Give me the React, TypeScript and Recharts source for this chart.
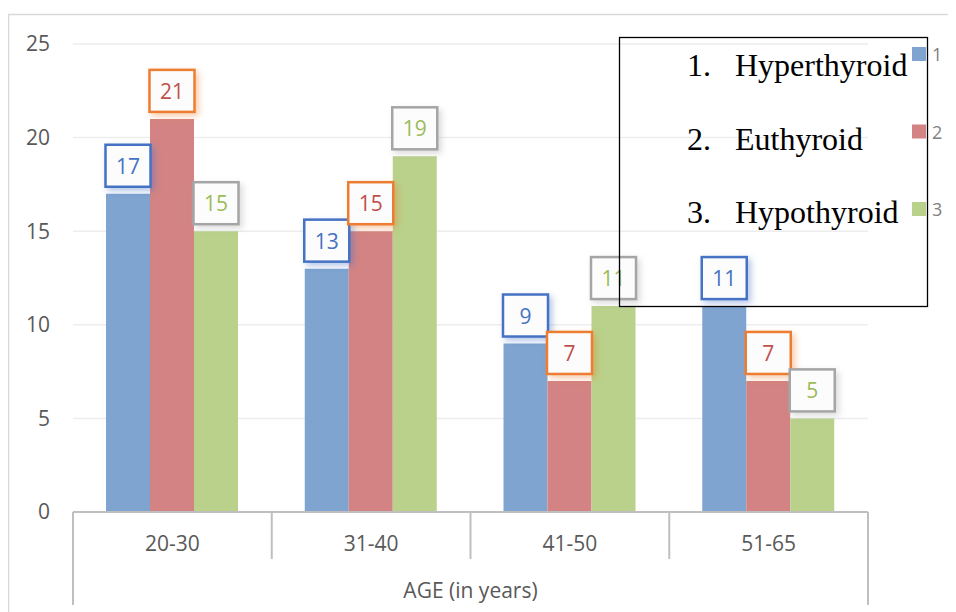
import React from 'react';
import { BarChart, Bar, XAxis, YAxis, CartesianGrid, LabelList } from 'recharts';

// Age groups on the category axis
const ageGroups = ['20-30', '31-40', '41-50', '51-65'];

// Patient counts per thyroid status
const hyperthyroid = [17, 13, 9, 11];
const euthyroid = [21, 15, 7, 7];
const hypothyroid = [15, 19, 11, 5];

const yTicks = [0, 5, 10, 15, 20, 25];
const xAxisTitle = 'AGE (in years)';
const legendNames = ['1', '2', '3'];
const statusNames = ['Hyperthyroid', 'Euthyroid', 'Hypothyroid'];

const FONT = '"Open Sans", Lato, sans-serif';

const series = [
  { key: 's1', name: legendNames[0], values: hyperthyroid, fill: '#7FA4CF', text: '#4472C4', border: '#4472C4' },
  { key: 's2', name: legendNames[1], values: euthyroid, fill: '#D38383', text: '#C0504D', border: '#ED7D31' },
  { key: 's3', name: legendNames[2], values: hypothyroid, fill: '#B9D18B', text: '#9BBB59', border: '#A5A5A5' },
];

const data = ageGroups.map((age, i) => {
  const row: Record<string, string | number> = { age };
  series.forEach((s) => {
    row[s.key] = s.values[i];
  });
  return row;
});

const PLOT_LEFT = 65;
const PLOT_RIGHT = 860;

// Boxed value label sitting above each bar
const makeBoxLabel = (idx: number) => (props: any) => {
  const { x, y, width, value } = props;
  const s = series[idx];
  const bw = width + 1;
  const bh = 42;
  const bx = x - 0.5;
  const by = y - 7 - bh;
  return (
    <g>
      <rect
        x={bx}
        y={by}
        width={bw}
        height={bh}
        fill="#FCFCFC"
        stroke={s.border}
        strokeWidth={2.5}
        filter={`url(#shadow-${idx})`}
      />
      <text
        x={bx + bw / 2}
        y={by + bh / 2}
        textAnchor="middle"
        dominantBaseline="central"
        fontFamily={FONT}
        fontSize={21}
        fill={s.text}
      >
        {value}
      </text>
    </g>
  );
};

// Category tick with the grouped separators of a two-level axis
const CategoryTick = (props: any) => {
  const { x, y, payload, index } = props;
  const half =
    payload && typeof payload.offset === 'number' && payload.offset > 0
      ? payload.offset
      : (PLOT_RIGHT - PLOT_LEFT) / ageGroups.length / 2;
  const last = index === ageGroups.length - 1;
  const sepStroke = '#BFBFBF';
  return (
    <g>
      <line x1={x - half} x2={x - half} y1={y} y2={index === 0 ? y + 93 : y + 47} stroke={sepStroke} strokeWidth={2} />
      {last && <line x1={x + half} x2={x + half} y1={y} y2={y + 93} stroke={sepStroke} strokeWidth={2} />}
      <text x={x} y={y + 31} textAnchor="middle" dominantBaseline="central" fontFamily={FONT} fontSize={21} fill="#595959">
        {payload.value}
      </text>
    </g>
  );
};

const AxisTitle = (props: any) => {
  const vb = props.viewBox || { x: PLOT_LEFT, y: 504, width: PLOT_RIGHT - PLOT_LEFT, height: 100 };
  return (
    <text
      x={vb.x + vb.width / 2}
      y={vb.y + 78}
      textAnchor="middle"
      dominantBaseline="central"
      fontFamily={FONT}
      fontSize={21}
      fill="#595959"
    >
      {xAxisTitle}
    </text>
  );
};

export default function App() {
  return (
    <div style={{ position: 'relative', width: 948, height: 604, overflow: 'visible' }}>
      <BarChart
        width={948}
        height={604}
        data={data}
        margin={{ top: 36, right: 88, left: 0, bottom: 0 }}
        barGap={0}
        barSize={44}
      >
        <defs>
          {series.map((s, i) => (
            <filter key={s.key} id={`shadow-${i}`} x="-30%" y="-30%" width="170%" height="170%">
              <feDropShadow dx={3} dy={3} stdDeviation={3} floodColor={s.border} floodOpacity={0.4} />
            </filter>
          ))}
        </defs>
        <CartesianGrid vertical={false} stroke="#EDEDED" strokeWidth={1.5} />
        <YAxis
          width={65}
          domain={[0, 25]}
          ticks={yTicks}
          axisLine={false}
          tickLine={false}
          tickSize={0}
          tickMargin={23}
          tick={{ fontFamily: FONT, fontSize: 21, fill: '#595959' }}
        />
        <XAxis
          dataKey="age"
          height={100}
          interval={0}
          tickLine={false}
          tickSize={0}
          tickMargin={0}
          axisLine={{ stroke: '#BFBFBF', strokeWidth: 2 }}
          tick={<CategoryTick />}
          label={<AxisTitle />}
        />
        {series.map((s, i) => (
          <Bar key={s.key} dataKey={s.key} name={s.name} fill={s.fill} isAnimationActive={false}>
            <LabelList dataKey={s.key} content={makeBoxLabel(i)} />
          </Bar>
        ))}
      </BarChart>

      <svg
        width={956}
        height={612}
        style={{ position: 'absolute', left: -8, top: -8, pointerEvents: 'none' }}
      >
        {/* chart area frame */}
        <line x1={8} x2={956} y1={14.5} y2={14.5} stroke="#D9D9D9" strokeWidth={1.5} />
        <line x1={8.5} x2={8.5} y1={14} y2={612} stroke="#D9D9D9" strokeWidth={1.5} />

        {/* status key text box */}
        <rect x={619.5} y={37.5} width={308} height={269} fill="none" stroke="#000" strokeWidth={1.3} />
        {statusNames.map((name, i) => (
          <g key={name}>
            <text x={687} y={76 + i * 73.5} fontFamily='"Liberation Serif", "Times New Roman", serif' fontSize={32} fill="#000">
              {`${i + 1}.`}
            </text>
            <text x={735} y={76 + i * 73.5} fontFamily='"Liberation Serif", "Times New Roman", serif' fontSize={32} fill="#000">
              {name}
            </text>
          </g>
        ))}

        {/* series legend */}
        {series.map((s, i) => (
          <g key={s.key}>
            <rect x={912} y={47 + i * 77.5} width={14} height={14} fill={s.fill} />
            <text x={932} y={61 + i * 77.5} fontFamily={FONT} fontSize={18} fill="#7F7F7F">
              {s.name}
            </text>
          </g>
        ))}
      </svg>
    </div>
  );
}
